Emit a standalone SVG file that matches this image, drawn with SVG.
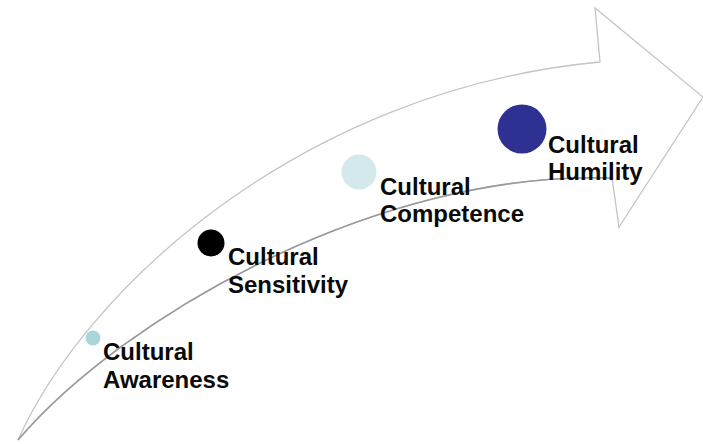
<svg xmlns="http://www.w3.org/2000/svg" width="703" height="444" viewBox="0 0 703 444">
<style>
.lbl{font-family:"Liberation Sans",Arial,sans-serif;font-weight:bold;font-size:24px;fill:#0a0a0a}
.outline{fill:#fff;stroke:#c4c4c4;stroke-width:1.3;stroke-linejoin:miter}
.inner{fill:none;stroke:#9a9a9a;stroke-width:1.6}
</style>
<rect width="703" height="444" fill="#fff"/>
<g id="connectors">
<path class="outline" d="M18,440 C85,290 300,90 600,62 L595,8 L703,97 L619,227 L612,178 C380,170 125,315 18,440 Z"/>
<path class="inner" d="M18,440 C125,315 380,170 612,178"/>
</g>
<g id="awareness">
<circle cx="93" cy="338" r="7.5" fill="#a9d6db"/>
<text class="lbl" x="103" y="360">Cultural</text>
<text class="lbl" x="103" y="388">Awareness</text>
</g>
<g id="sensitivity">
<circle cx="211" cy="243" r="13.5" fill="#000"/>
<text class="lbl" x="228" y="265">Cultural</text>
<text class="lbl" x="228" y="293">Sensitivity</text>
</g>
<g id="competence">
<circle cx="359" cy="172" r="17.5" fill="#d3e9ec"/>
<text class="lbl" x="380" y="195">Cultural</text>
<text class="lbl" x="380" y="222">Competence</text>
</g>
<g id="humility">
<circle cx="522" cy="129" r="24.5" fill="#2e3192"/>
<text class="lbl" x="548" y="153">Cultural</text>
<text class="lbl" x="548" y="180">Humility</text>
</g>
</svg>
